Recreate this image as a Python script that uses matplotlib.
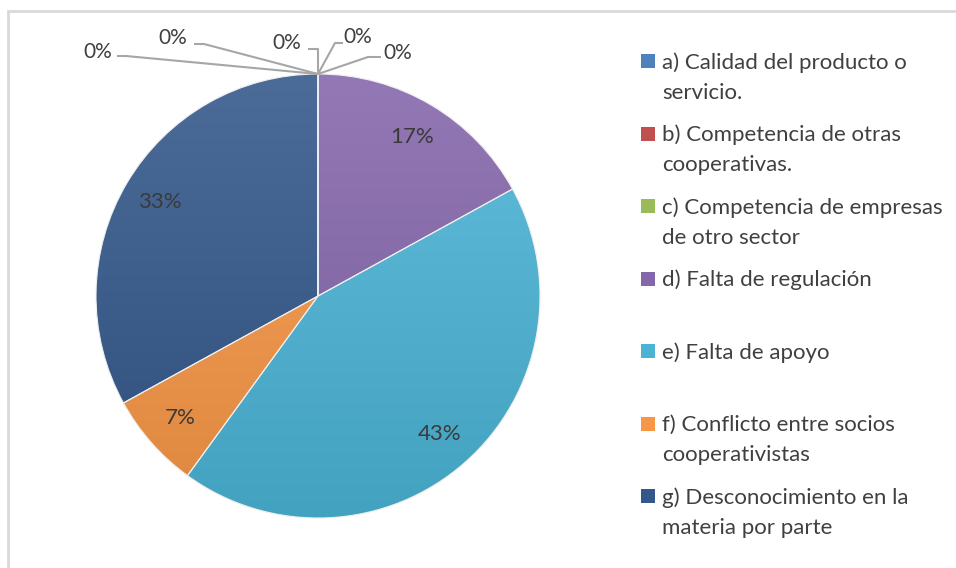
import numpy as np
import matplotlib.pyplot as plt
from matplotlib.patches import Rectangle
from matplotlib.colors import to_rgb

plt.rcParams['font.family'] = ['Lato', 'DejaVu Sans']

categories = [
    'a) Calidad del producto o\nservicio.',
    'b) Competencia de otras\ncooperativas.',
    'c) Competencia de empresas\nde otro sector',
    'd) Falta de regulación',
    'e) Falta de apoyo',
    'f) Conflicto entre socios\ncooperativistas',
    'g) Desconocimiento en la\nmateria por parte',
    'h)',
    'i)',
]
values = [0, 0, 0, 17, 43, 7, 33, 0, 0]
colors = ['#4F81BD', '#C0504D', '#9BBB59', '#8466AB', '#4BB4D6',
          '#F79646', '#33578A', '#2C4D75', '#8064A2']
n_legend = 7  # legend in the original only shows the first 7 entries

W, H = 956, 568
fig = plt.figure(figsize=(W / 100, H / 100), dpi=100)
fig.patch.set_facecolor('white')

# frame of the chart area (partly cropped in the reference)
fig.add_artist(Rectangle((8 / W, -0.1), 1.1, (H - 11) / H + 0.1,
                         transform=fig.transFigure, fill=False,
                         edgecolor='#d9d9d9', linewidth=2))

cx, cy, R = 318, 296, 222
ax = fig.add_axes([(cx - R) / W, (H - cy - R) / H, 2 * R / W, 2 * R / H])

wedges, texts, autotexts = ax.pie(
    values, colors=colors, startangle=90, counterclock=False, radius=1,
    autopct=lambda p: f'{p:.0f}%' if p > 0.5 else '', pctdistance=0.83,
    wedgeprops=dict(edgecolor='#eeeeee', linewidth=0.8),
    textprops=dict(color='#3a3a3a', fontsize=16))
ax.set_aspect('equal')
ax.axis('off')

# soft top-to-bottom shading like the Excel 2007 style
t = np.linspace(0, 1, 256)[:, None]
for w, c, v in zip(wedges, colors, values):
    if v == 0:
        continue
    base = np.array(to_rgb(c))
    top = base + (1 - base) * 0.12
    bot = base * 0.90
    img = top[None, None, :] * (1 - t[..., None]) + bot[None, None, :] * t[..., None]
    img = np.repeat(img, 2, axis=1)
    im = ax.imshow(img, extent=[-1, 1, -1, 1], origin='upper', zorder=0.5,
                   interpolation='bilinear')
    im.set_clip_path(w)
    w.set_facecolor('none')
    w.set_zorder(1)
ax.set_xlim(-1, 1)
ax.set_ylim(-1, 1)

# labels for the zero slices, drawn with leader lines up to the pie top
def px(x, y):
    return (x - cx) / R, (cy - y) / R

zero_idx = [i for i, v in enumerate(values) if v == 0]
label_pos = [(358, 37), (398, 53), (287, 43), (173, 38), (98, 52)]
elbows = [[(343, 43), (335, 43)], [(381, 57), (368, 57)],
          [(308, 49), (318, 49)], [(194, 44), (204, 44)],
          [(117, 56), (126, 56)]]
for i, (lx, ly), el in zip(zero_idx, label_pos, elbows):
    w = wedges[i]
    ang = np.deg2rad(w.theta1)
    tip = (w.r * np.cos(ang), w.r * np.sin(ang))
    pts = [px(*p) for p in el] + [tip]
    ax.plot([p[0] for p in pts], [p[1] for p in pts], color='#a6a6a6',
            linewidth=1.5, clip_on=False, solid_capstyle='butt', zorder=3)
    tx, ty = px(lx, ly)
    ax.text(tx, ty, '0%', ha='center', va='center', fontsize=15,
            color='#404040', clip_on=False)

# legend, evenly spaced entries as in the Excel chart
base0, step = 71, 72.5
for k in range(n_legend):
    yb = base0 + k * step
    fig.add_artist(Rectangle((641 / W, (H - yb + 3) / H), 14 / W, 14 / H,
                             transform=fig.transFigure,
                             facecolor=colors[k], edgecolor='none'))
    fig.text(662 / W, (H - yb + 19) / H, categories[k], ha='left', va='top',
             fontsize=16, color='#404040', linespacing=1.65)

fig.savefig('out.png', dpi=100, facecolor='white')
